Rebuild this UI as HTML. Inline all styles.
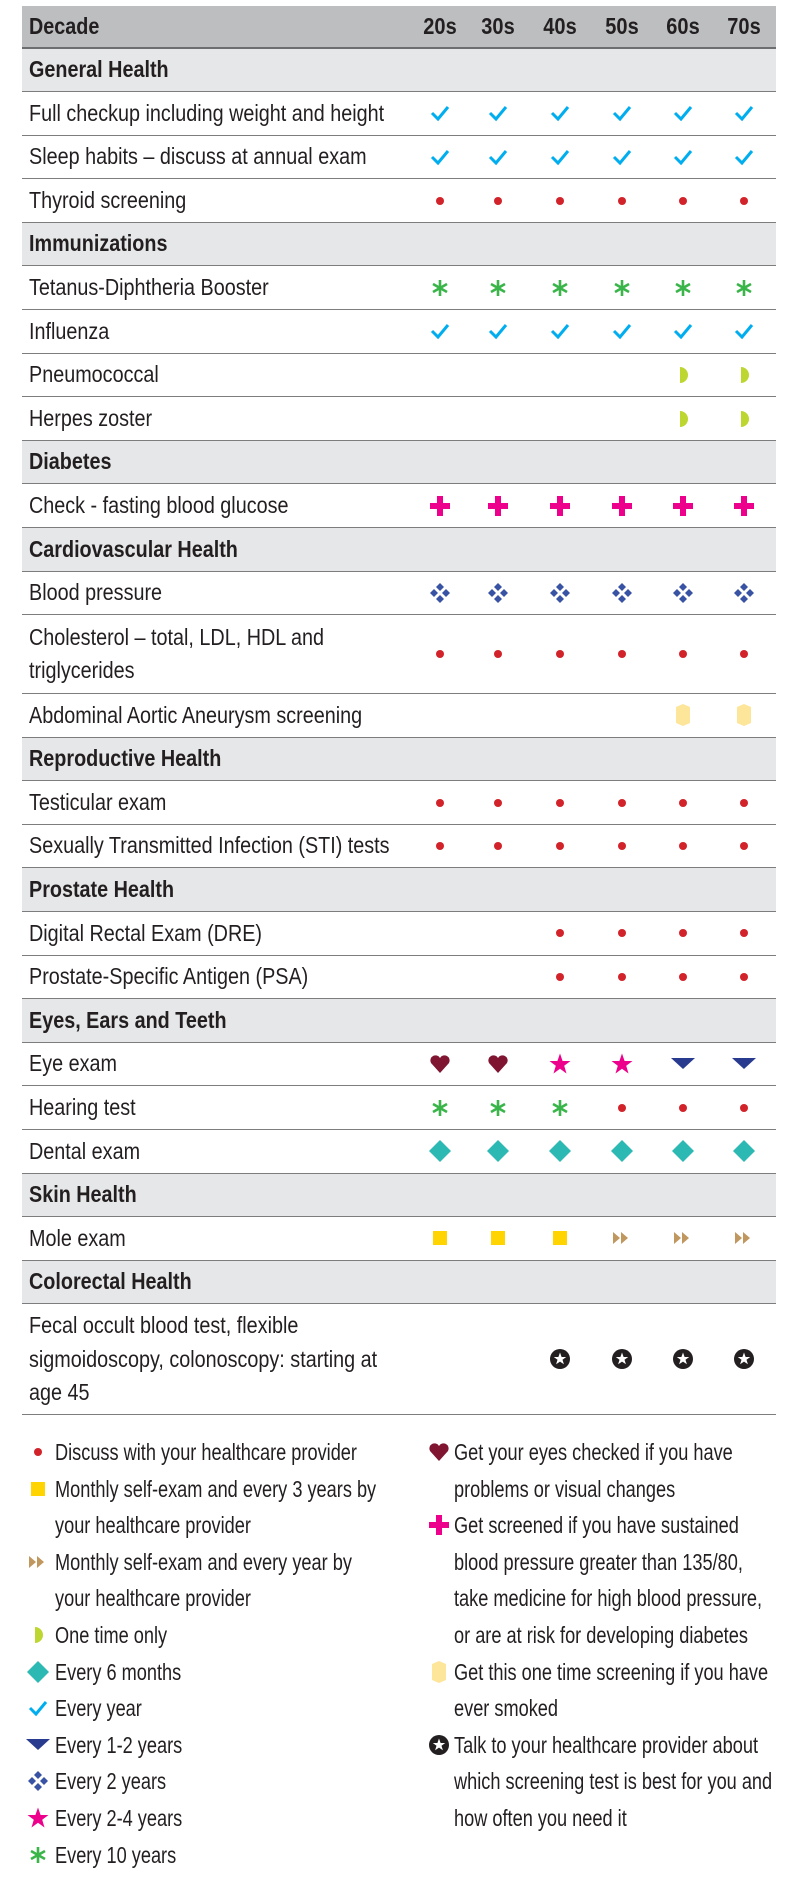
<!DOCTYPE html>
<html><head><meta charset="utf-8">
<style>
*{box-sizing:border-box;margin:0;padding:0}
body{width:800px;height:1886px;background:#fff;font-family:"Liberation Sans Narrow","Liberation Sans",sans-serif;color:#231f20;position:relative;overflow:hidden}
#t{position:absolute;left:22px;top:6px;width:754px}
.r{position:relative;height:43.6px;border-bottom:1.5px solid #7d7d7d;font-size:23px}
.r .l{position:absolute;left:7px;top:0;height:100%;display:flex;align-items:center;line-height:33.5px}
.tx{display:inline-block;transform:scaleX(.86);transform-origin:0 50%;white-space:nowrap}
.h{background:#bcbec0;height:42.5px;border-bottom:2px solid #6d6e70;font-weight:bold}
.s{background:#e6e7e8;font-weight:bold}
.c{position:absolute;top:50%;width:24px;height:24px;margin:-12px 0 0 -12px}
.c svg{width:24px;height:24px;display:block}
.hc{position:absolute;top:0;height:100%;display:flex;align-items:center;transform:translateX(-50%) scaleX(.87);font-weight:bold}
#lg{position:absolute;top:1434px;left:0;width:800px;font-size:23px;line-height:36.6px}
.li{position:absolute;white-space:nowrap}
.li .tx{transform-origin:0 0;transform:scaleX(.79)}
.li svg{position:absolute;width:24px;height:24px}
</style></head><body>
<svg width="0" height="0" style="position:absolute">
<defs>
<symbol id="ck" viewBox="0 0 24 24"><path d="M4 12 L10 18 L20 6" fill="none" stroke="#00aeef" stroke-width="3"/></symbol>
<symbol id="dt" viewBox="0 0 24 24"><circle cx="12" cy="12" r="4" fill="#d2232a"/></symbol>
<symbol id="as" viewBox="0 0 24 24"><g stroke="#39b54a" stroke-width="2.6"><line x1="12" y1="4" x2="12" y2="20"/><line x1="5" y1="8" x2="19" y2="16"/><line x1="5" y1="16" x2="19" y2="8"/></g></symbol>
<symbol id="hm" viewBox="0 0 24 24"><path d="M9 4 A8 8 0 0 1 9 20 Z" fill="#bed630"/></symbol>
<symbol id="pl" viewBox="0 0 24 24"><path d="M9 2h6v7h7v6h-7v7h-6v-7h-7v-6h7z" fill="#ec008c"/></symbol>
<symbol id="dm4" viewBox="0 0 24 24"><g fill="#3953a4"><path d="M12 2l4 4-4 4-4-4z"/><path d="M12 14l4 4-4 4-4-4z"/><path d="M6 8l4 4-4 4-4-4z"/><path d="M18 8l4 4-4 4-4-4z"/></g></symbol>
<symbol id="sh" viewBox="0 0 24 24"><path d="M5 4 L12 1 L19 4 L19 20 L12 23 L5 20 Z" fill="#fde59a"/></symbol>
<symbol id="ht" viewBox="0 0 24 24"><path d="M12 21 L3 11 A5 5 0 0 1 12 6 A5 5 0 0 1 21 11 Z" fill="#7f1530"/></symbol>
<symbol id="st" viewBox="0 0 24 24"><path d="M12 1.5 L14.6 9 L22.5 9 L16.2 13.8 L18.5 21.5 L12 16.8 L5.5 21.5 L7.8 13.8 L1.5 9 L9.4 9 Z" fill="#ec008c"/></symbol>
<symbol id="tr" viewBox="0 0 24 24"><path d="M0 6 L24 6 L12 17 Z" fill="#283b8f"/></symbol>
<symbol id="di" viewBox="0 0 24 24"><path d="M12 1 L23 12 L12 23 L1 12 Z" fill="#2cb9b4"/></symbol>
<symbol id="sq" viewBox="0 0 24 24"><rect x="5" y="5" width="14" height="14" fill="#ffd400"/></symbol>
<symbol id="dtr" viewBox="0 0 24 24"><path d="M3 6 L10 12 L3 18 Z M11 6 L18 12 L11 18 Z" fill="#c0975f"/></symbol>
<symbol id="cs" viewBox="0 0 24 24"><circle cx="12" cy="12" r="10" fill="#231f20"/><path d="M12 5.5 L13.6 10 L18.2 10 L14.5 12.8 L15.9 17.3 L12 14.6 L8.1 17.3 L9.5 12.8 L5.8 10 L10.4 10 Z" fill="#fff"/></symbol>
</defs></svg>

<div id="t">
<div class="r h"><div class="l"><span class="tx">Decade</span></div>
<div class="hc" style="left:418px">20s</div><div class="hc" style="left:476px">30s</div><div class="hc" style="left:538px">40s</div><div class="hc" style="left:600px">50s</div><div class="hc" style="left:661px">60s</div><div class="hc" style="left:722px">70s</div></div>

<div class="r s"><div class="l"><span class="tx">General Health</span></div></div>
<div class="r" data-i="ck,ck,ck,ck,ck,ck"><div class="l"><span class="tx">Full checkup including weight and height</span></div></div>
<div class="r" data-i="ck,ck,ck,ck,ck,ck"><div class="l"><span class="tx">Sleep habits – discuss at annual exam</span></div></div>
<div class="r" data-i="dt,dt,dt,dt,dt,dt"><div class="l"><span class="tx">Thyroid screening</span></div></div>
<div class="r s"><div class="l"><span class="tx">Immunizations</span></div></div>
<div class="r" data-i="as,as,as,as,as,as"><div class="l"><span class="tx">Tetanus-Diphtheria Booster</span></div></div>
<div class="r" data-i="ck,ck,ck,ck,ck,ck"><div class="l"><span class="tx">Influenza</span></div></div>
<div class="r" data-i=",,,,hm,hm"><div class="l"><span class="tx">Pneumococcal</span></div></div>
<div class="r" data-i=",,,,hm,hm"><div class="l"><span class="tx">Herpes zoster</span></div></div>
<div class="r s"><div class="l"><span class="tx">Diabetes</span></div></div>
<div class="r" data-i="pl,pl,pl,pl,pl,pl"><div class="l"><span class="tx">Check - fasting blood glucose</span></div></div>
<div class="r s"><div class="l"><span class="tx">Cardiovascular Health</span></div></div>
<div class="r" data-i="dm4,dm4,dm4,dm4,dm4,dm4"><div class="l"><span class="tx">Blood pressure</span></div></div>
<div class="r" style="height:78.8px" data-i="dt,dt,dt,dt,dt,dt"><div class="l"><span class="tx">Cholesterol – total, LDL, HDL and<br>triglycerides</span></div></div>
<div class="r" data-i=",,,,sh,sh"><div class="l"><span class="tx">Abdominal Aortic Aneurysm screening</span></div></div>
<div class="r s"><div class="l"><span class="tx">Reproductive Health</span></div></div>
<div class="r" data-i="dt,dt,dt,dt,dt,dt"><div class="l"><span class="tx">Testicular exam</span></div></div>
<div class="r" data-i="dt,dt,dt,dt,dt,dt"><div class="l"><span class="tx">Sexually Transmitted Infection (STI) tests</span></div></div>
<div class="r s"><div class="l"><span class="tx">Prostate Health</span></div></div>
<div class="r" data-i=",,dt,dt,dt,dt"><div class="l"><span class="tx">Digital Rectal Exam (DRE)</span></div></div>
<div class="r" data-i=",,dt,dt,dt,dt"><div class="l"><span class="tx">Prostate-Specific Antigen (PSA)</span></div></div>
<div class="r s"><div class="l"><span class="tx">Eyes, Ears and Teeth</span></div></div>
<div class="r" data-i="ht,ht,st,st,tr,tr"><div class="l"><span class="tx">Eye exam</span></div></div>
<div class="r" data-i="as,as,as,dt,dt,dt"><div class="l"><span class="tx">Hearing test</span></div></div>
<div class="r" data-i="di,di,di,di,di,di"><div class="l"><span class="tx">Dental exam</span></div></div>
<div class="r s"><div class="l"><span class="tx">Skin Health</span></div></div>
<div class="r" data-i="sq,sq,sq,dtr,dtr,dtr"><div class="l"><span class="tx">Mole exam</span></div></div>
<div class="r s"><div class="l"><span class="tx">Colorectal Health</span></div></div>
<div class="r" style="height:111px" data-i=",,cs,cs,cs,cs"><div class="l"><span class="tx">Fecal occult blood test, flexible<br>sigmoidoscopy, colonoscopy: starting at<br>age 45</span></div></div>
</div>

<div id="lg">
<div class="li" style="left:55px;top:0"><span class="tx">Discuss with your healthcare provider</span><svg style="left:-29px;top:6px"><use href="#dt"/></svg></div>
<div class="li" style="left:55px;top:36.6px"><span class="tx">Monthly self-exam and every 3 years by<br>your healthcare provider</span><svg style="left:-29px;top:6px"><use href="#sq"/></svg></div>
<div class="li" style="left:55px;top:109.8px"><span class="tx">Monthly self-exam and every year by<br>your healthcare provider</span><svg style="left:-29px;top:6px"><use href="#dtr"/></svg></div>
<div class="li" style="left:55px;top:183px"><span class="tx">One time only</span><svg style="left:-29px;top:6px"><use href="#hm"/></svg></div>
<div class="li" style="left:55px;top:219.6px"><span class="tx">Every 6 months</span><svg style="left:-29px;top:6px"><use href="#di"/></svg></div>
<div class="li" style="left:55px;top:256.2px"><span class="tx">Every year</span><svg style="left:-29px;top:6px"><use href="#ck"/></svg></div>
<div class="li" style="left:55px;top:292.8px"><span class="tx">Every 1-2 years</span><svg style="left:-29px;top:6px"><use href="#tr"/></svg></div>
<div class="li" style="left:55px;top:329.4px"><span class="tx">Every 2 years</span><svg style="left:-29px;top:6px"><use href="#dm4"/></svg></div>
<div class="li" style="left:55px;top:366px"><span class="tx">Every 2-4 years</span><svg style="left:-29px;top:6px"><use href="#st"/></svg></div>
<div class="li" style="left:55px;top:402.6px"><span class="tx">Every 10 years</span><svg style="left:-29px;top:6px"><use href="#as"/></svg></div>

<div class="li" style="left:454px;top:0"><span class="tx">Get your eyes checked if you have<br>problems or visual changes</span><svg style="left:-27px;top:6px"><use href="#ht"/></svg></div>
<div class="li" style="left:454px;top:73.2px"><span class="tx">Get screened if you have sustained<br>blood pressure greater than 135/80,<br>take medicine for high blood pressure,<br>or are at risk for developing diabetes</span><svg style="left:-27px;top:6px"><use href="#pl"/></svg></div>
<div class="li" style="left:454px;top:219.6px"><span class="tx">Get this one time screening if you have<br>ever smoked</span><svg style="left:-27px;top:6px"><use href="#sh"/></svg></div>
<div class="li" style="left:454px;top:292.8px"><span class="tx">Talk to your healthcare provider about<br>which screening test is best for you and<br>how often you need it</span><svg style="left:-27px;top:6px"><use href="#cs"/></svg></div>
</div>

<script>
var xs=[418,476,538,600,661,722];
document.querySelectorAll('.r[data-i]').forEach(function(r){
  r.getAttribute('data-i').split(',').forEach(function(s,i){
    if(!s)return;
    var d=document.createElement('div');d.className='c';d.style.left=xs[i]+'px';
    d.innerHTML='<svg viewBox="0 0 24 24"><use href="#'+s+'"/></svg>';
    r.appendChild(d);
  });
  r.removeAttribute('data-i');
});
</script>
</body></html>
